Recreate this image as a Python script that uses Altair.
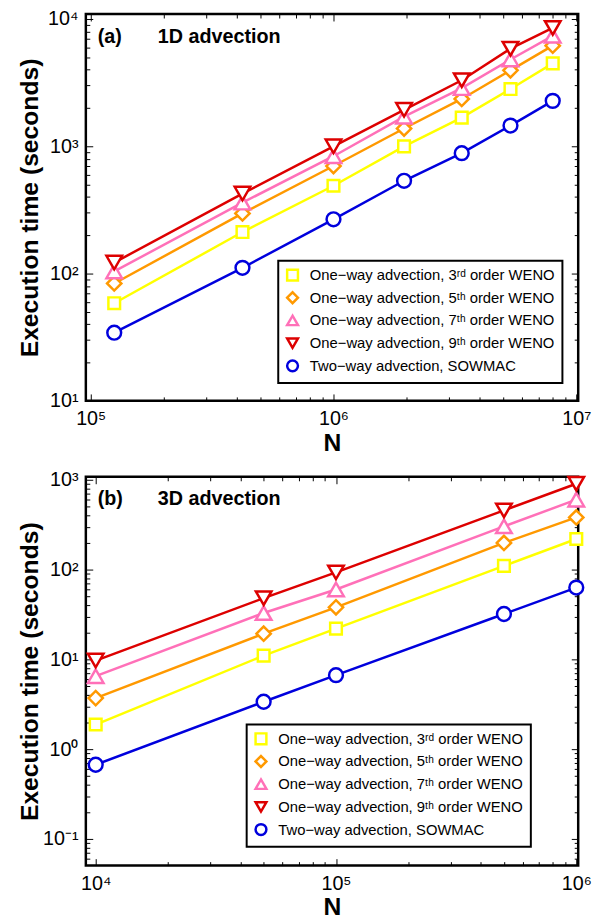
import altair as alt
import pandas as pd

FONT = "Liberation Sans"

SERIES = [
    "One−way advection, 3ʳᵈ order WENO",
    "One−way advection, 5ᵗʰ order WENO",
    "One−way advection, 7ᵗʰ order WENO",
    "One−way advection, 9ᵗʰ order WENO",
    "Two−way advection, SOWMAC",
]
COLORS = ["#FFFF00", "#FF9900", "#FF70B8", "#DD0000", "#0000DD"]
SHAPES = ["square", "diamond", "triangle-up", "triangle-down", "circle"]
SIZES = [140, 210, 250, 250, 196]

# Panel (a): 1D advection
N_1d = [125000, 421875, 1000000, 1953125, 3375000, 5359375, 8000000]
weno3_1d = [58.5, 212, 490, 1000, 1679, 2818, 4480]
weno5_1d = [83.6, 297, 700, 1380, 2355, 3953, 6180]
weno7_1d = [104, 361, 836, 1709, 2866, 4810, 7380]
weno9_1d = [122, 425, 1000, 1936, 3305, 5850, 8510]
sowmac_1d = [34.3, 111, 267, 536, 883, 1455, 2275]

# Panel (b): 3D advection
N_3d = [10000, 50000, 100000, 500000, 1000000]
weno3_3d = [1.88, 11.0, 22.0, 110, 219]
weno5_3d = [3.7, 19.3, 38, 198, 381]
weno7_3d = [6.5, 32.8, 60, 303, 600]
weno9_3d = [9.7, 48, 93, 456, 904]
sowmac_3d = [0.67, 3.37, 6.67, 32, 63]

EXPR = "'10' + ['⁻¹','⁰','¹','²','³','⁴','⁵','⁶','⁷'][round(log(datum.value)/LN10) + 1]"


def to_df(N, cols):
    rows = []
    for name, vals in zip(SERIES, cols):
        for n, v in zip(N, vals):
            rows.append({"N": n, "t": v, "series": name})
    return pd.DataFrame(rows)


def minors(lo, hi):
    out = []
    e = -3
    while 10.0 ** e <= hi:
        for k in range(2, 10):
            v = k * 10.0 ** e
            if lo < v < hi:
                out.append(v)
        e += 1
    return out


def majors(lo, hi):
    out = []
    for e in range(-3, 9):
        v = 10.0 ** e
        if lo <= v * 1.0001 and v <= hi * 1.0001:
            out.append(v)
    return out


def lab_axis(orient, values, title, extent, label_pad, title_pad):
    return alt.Axis(
        orient=orient, values=values, labelExpr=EXPR, ticks=False, domain=False,
        grid=False, labelFont=FONT, labelFontSize=20, labelColor="black",
        title=title, titleFont=FONT, titleFontSize=25, titleFontWeight="bold",
        titleColor="black", labelPadding=label_pad, titlePadding=title_pad,
        minExtent=extent, maxExtent=extent, labelFlush=False, labelOverlap=False,
    )


def tick_axis(orient, values, size):
    return alt.Axis(
        orient=orient, values=values, labels=False, ticks=True, tickSize=size,
        tickWidth=1, tickColor="black", domain=False, grid=False, offset=-size,
        title=None, minExtent=0, maxExtent=0,
    )


def panel(df, xdom, ydom, tag, name, leg_x, leg_y, w, h):
    xs = alt.Scale(type="log", domain=xdom, nice=False)
    ys = alt.Scale(type="log", domain=ydom, nice=False)
    xmaj, xmin = majors(*xdom), minors(*xdom)
    ymaj, ymin = majors(*ydom), minors(*ydom)
    # scales without a legend are listed in reverse order so that they are not
    # merged with the legend of the markers
    line_scale = alt.Scale(domain=SERIES[::-1], range=COLORS[::-1])
    szscale = alt.Scale(type="ordinal", domain=SERIES[::-1], range=SIZES[::-1])
    sscale = alt.Scale(domain=SERIES, range=COLORS)
    shscale = alt.Scale(domain=SERIES, range=SHAPES)
    leg = alt.Legend(
        orient="none", legendX=leg_x, legendY=leg_y, title=None,
        labelFont=FONT, labelFontSize=15, labelColor="black", labelLimit=400,
        symbolStrokeWidth=2.5, symbolSize=120, symbolFillColor="white",
        padding=7, rowPadding=2, labelOffset=10,
        strokeColor="black", fillColor="white",
    )
    base = alt.Chart(df)
    lines = base.mark_line(strokeWidth=2.5).encode(
        x=alt.X("N:Q", scale=xs, axis=lab_axis("bottom", xmaj, "N", 26, 8, 4)),
        y=alt.Y("t:Q", scale=ys,
                axis=lab_axis("left", ymaj, "Execution time (seconds)", 40, 8, 4)),
        color=alt.Color("series:N", scale=line_scale, legend=None),
    )
    pts = base.mark_point(opacity=1, strokeWidth=2.5).encode(
        x=alt.X("N:Q", scale=xs, axis=None),
        y=alt.Y("t:Q", scale=ys, axis=None),
        stroke=alt.Stroke("series:N", scale=sscale, legend=leg),
        shape=alt.Shape("series:N", scale=shscale, legend=leg),
        size=alt.Size("series:N", scale=szscale, legend=None),
        fill=alt.value("white"),
    )
    axes = []
    for xo, yo, xv, yv, sz in [
        ("bottom", "left", xmaj, ymaj, 7),
        ("bottom", "left", xmin, ymin, 4),
        ("top", "right", xmaj, ymaj, 7),
        ("top", "right", xmin, ymin, 4),
    ]:
        axes.append(
            base.mark_point(opacity=0).encode(
                x=alt.X("N:Q", scale=xs, axis=tick_axis(xo, xv, sz)),
                y=alt.Y("t:Q", scale=ys, axis=tick_axis(yo, yv, sz)),
            )
        )
    txt_df = pd.DataFrame({"label": [tag]})
    txt_df2 = pd.DataFrame({"label": [name]})
    t1 = alt.Chart(txt_df).mark_text(
        font=FONT, fontSize=20, fontWeight="bold", align="left", baseline="alphabetic",
        color="black",
    ).encode(x=alt.value(12), y=alt.value(29), text="label:N")
    t2 = alt.Chart(txt_df2).mark_text(
        font=FONT, fontSize=20, fontWeight="bold", align="left", baseline="alphabetic",
        color="black",
    ).encode(x=alt.value(73), y=alt.value(29), text="label:N")
    return alt.layer(lines, pts, *axes, t1, t2).resolve_axis(
        x="independent", y="independent"
    ).properties(width=w, height=h)


df_a = to_df(N_1d, [weno3_1d, weno5_1d, weno7_1d, weno9_1d, sowmac_1d])
df_b = to_df(N_3d, [weno3_3d, weno5_3d, weno7_3d, weno9_3d, sowmac_3d])

pa = panel(df_a, [10 ** 4.98, 10 ** 7.008], [10.0, 10 ** 4.039],
           "(a)", "1D advection", 195, 250, 499, 392)
pb = panel(df_b, [10 ** 3.959, 10 ** 6.008], [10 ** -1.297, 10 ** 3.033],
           "(b)", "3D advection", 163, 251, 499, 394)

chart = alt.vconcat(pa, pb, spacing=11).resolve_scale(
    color="independent", stroke="independent", shape="independent", size="independent"
).properties(
    padding={"left": 16, "top": 1, "right": 0, "bottom": 0},
    background="white",
).configure_view(
    stroke="black", strokeWidth=2.5
).configure_legend(
    strokeWidth=2
)

chart.save("out.html", embed_options={"renderer": "svg", "actions": False})
